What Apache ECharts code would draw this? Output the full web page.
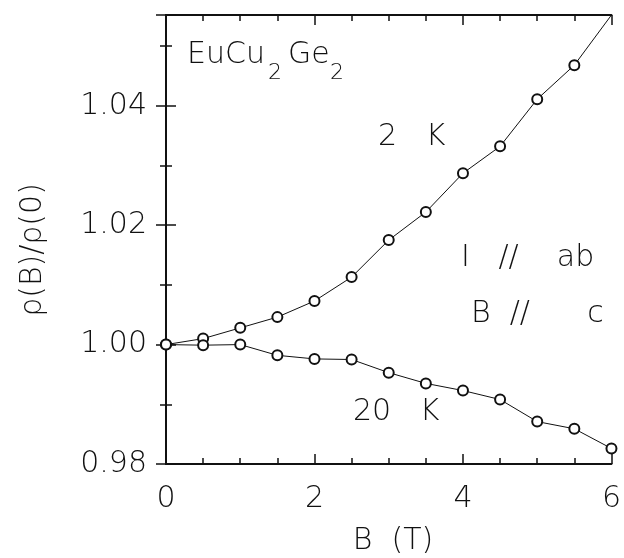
<!DOCTYPE html>
<html>
<head>
<meta charset="utf-8">
<script src="https://cdn.jsdelivr.net/npm/echarts@6/dist/echarts.min.js"></script>
<style>
  html, body { margin: 0; padding: 0; background: #fff; }
  #main { width: 624px; height: 558px; }
</style>
</head>
<body>
<div id="main"></div>
<script>
// field values (T)
const fields = [0, 0.5, 1, 1.5, 2, 2.5, 3, 3.5, 4, 4.5, 5, 5.5, 6];
// rho(B)/rho(0) at 2 K
const rho2K = [1.0000, 1.0010, 1.0028, 1.0046, 1.0073, 1.0113, 1.0175, 1.0222, 1.0287, 1.0332, 1.0411, 1.0468, 1.0552];
// rho(B)/rho(0) at 20 K
const rho20K = [1.0000, 0.9999, 1.0000, 0.9982, 0.9976, 0.9975, 0.9953, 0.9935, 0.9923, 0.9908, 0.9871, 0.9859, 0.9826];

const FONT = 'DejaVu Sans';
const W = 200;
const ink = '#111';

const pairs = (ys) => fields.map((x, i) => {
  const p = { value: [x, ys[i]] };
  // the last 2 K point sits on the frame corner, no marker drawn there
  if (ys[i] > 1.055) p.symbol = 'none';
  return p;
});

const chart = echarts.init(document.getElementById('main'));

const tickStyle = { color: ink, width: 1.5 };
const frameLine = { show: true, lineStyle: { color: ink, width: 2 } };
const txt = (size) => ({ color: ink, fontSize: size, fontFamily: FONT, fontWeight: W });
const note = (text, left, top, size) => ({
  type: 'text', left: left, top: top,
  style: { text: text, fontSize: size || 30, fontFamily: FONT, fontWeight: W, fill: ink }
});

chart.setOption({
  animation: false,
  grid: { left: 166, right: 9, top: 15, bottom: 94 },
  xAxis: [
    {
      type: 'value', min: 0, max: 6, interval: 2,
      axisLine: frameLine,
      axisTick: { show: true, inside: true, length: 10, lineStyle: tickStyle },
      minorTick: { show: true, splitNumber: 4, length: 6, lineStyle: tickStyle },
      splitLine: { show: false },
      axisLabel: Object.assign({ margin: 20 }, txt(30))
    },
    {
      type: 'value', position: 'top', min: 0, max: 6, interval: 2,
      axisLine: frameLine,
      axisTick: { show: true, inside: true, length: 10, lineStyle: tickStyle },
      minorTick: { show: true, splitNumber: 4, length: 6, lineStyle: tickStyle },
      splitLine: { show: false },
      axisLabel: { show: false }
    }
  ],
  yAxis: [
    {
      type: 'value', min: 0.98, max: 1.0552, interval: 0.02,
      axisLine: frameLine,
      axisTick: { show: true, inside: true, length: 10, lineStyle: tickStyle },
      minorTick: { show: true, splitNumber: 2, length: 6, lineStyle: tickStyle },
      splitLine: { show: false },
      axisLabel: Object.assign({
        margin: 19, showMaxLabel: false,
        formatter: (v) => v.toFixed(2)
      }, txt(30))
    },
    {
      type: 'value', position: 'right', min: 0.98, max: 1.0552, interval: 0.02,
      axisLine: frameLine,
      axisTick: { show: true, inside: true, length: 10, lineStyle: tickStyle },
      minorTick: { show: true, splitNumber: 2, length: 6, lineStyle: tickStyle },
      splitLine: { show: false },
      axisLabel: { show: false }
    }
  ],
  series: [
    {
      name: '2 K', type: 'line', data: pairs(rho2K),
      symbol: 'emptyCircle', symbolSize: 10, showAllSymbol: true,
      lineStyle: { color: ink, width: 1 },
      itemStyle: { color: ink, borderWidth: 1.3 }
    },
    {
      name: '20 K', type: 'line', data: pairs(rho20K),
      symbol: 'emptyCircle', symbolSize: 10, showAllSymbol: true,
      lineStyle: { color: ink, width: 1 },
      itemStyle: { color: ink, borderWidth: 1.3 }
    }
  ],
  graphic: [
    // axis titles
    {
      type: 'text', x: 33, y: 250, rotation: Math.PI / 2,
      style: { text: 'ρ(B)/ρ(0)', fontSize: 30, fontFamily: FONT, fontWeight: W, fill: ink,
        align: 'center', verticalAlign: 'middle' }
    },
    {
      type: 'text', x: 393, y: 541,
      style: { text: 'B  (T)', fontSize: 30, fontFamily: FONT, fontWeight: W, fill: ink,
        align: 'center', verticalAlign: 'middle' }
    },
    note('EuCu', 187, 40),
    note('2', 268, 62, 22),
    note('Ge', 288, 40),
    note('2', 330, 62, 22),
    note('2   K', 378, 122),
    note('20   K', 353, 397),
    note('I   //    ab', 461, 243),
    note('B  //      c', 471, 299)
  ]
});
</script>
</body>
</html>
